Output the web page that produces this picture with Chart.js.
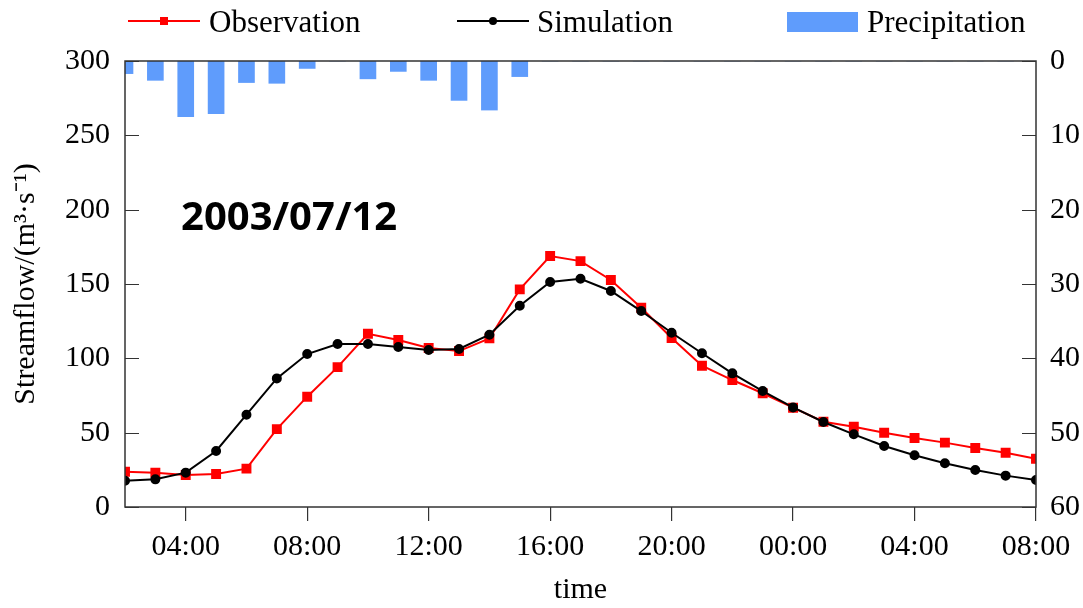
<!DOCTYPE html>
<html>
<head>
<meta charset="utf-8">
<script src="https://cdn.jsdelivr.net/npm/chart.js@4"></script>
<style>
  html, body { margin: 0; padding: 0; background: #fff; }
  #wrap { width: 1083px; height: 608px; }
</style>
</head>
<body>
<div id="wrap"><canvas id="chart"></canvas></div>
<script>
// hours since 00:00 on 2003/07/12
const hours = [2, 3, 4, 5, 6, 7, 8, 9, 10, 11, 12, 13, 14, 15, 16, 17, 18, 19, 20, 21, 22, 23, 24, 25, 26, 27, 28, 29, 30, 31, 32];
const observation = [23.7, 23.1, 21.5, 22.2, 25.8, 52.4, 74.2, 94.1, 116.5, 112.3, 106.9, 104.9, 113.4, 146.4, 168.8, 165.4,
    152.7, 134.0, 113.7, 95.0, 85.4, 76.5, 66.8, 57.4, 54.0, 50.0, 46.4, 43.3, 39.7, 36.5, 32.5];
const simulation = [17.7, 18.6, 23.1, 37.7, 62.1, 86.5, 102.9, 109.6, 109.6, 107.6, 105.6, 106.3, 115.9, 135.4, 151.3, 153.5,
    145.3, 131.8, 117.2, 103.4, 89.9, 78.0, 67.0, 57.2, 48.9, 41.0, 34.8, 29.4, 24.9, 21.1, 18.2];
const precipitation = [1.7, 2.6, 7.5, 7.1, 2.9, 3.0, 1.0, 0, 2.4, 1.4, 2.6, 5.3, 6.6, 2.1, 0, 0,
    0, 0, 0, 0, 0, 0, 0, 0, 0, 0, 0, 0, 0, 0, 0];

const xTickHours = [4, 8, 12, 16, 20, 24, 28, 32];
const xTickLabels = ['04:00', '08:00', '12:00', '16:00', '20:00', '00:00', '04:00', '08:00'];
const flowTicks = [0, 50, 100, 150, 200, 250, 300];
const rainTicks = [0, 10, 20, 30, 40, 50, 60];

const serif = '"Liberation Serif", "Times New Roman", serif';
const rainColor = '#5f9cfc';

const toPoints = values => hours.map((h, i) => ({x: h, y: values[i]}));

// frame, inward y ticks, legend and date label
const decorations = {
    id: 'decorations',
    afterDraw(chart) {
        const ctx = chart.ctx;
        const area = chart.chartArea;
        const yL = chart.scales.y;
        const yR = chart.scales.y2;
        ctx.save();
        ctx.strokeStyle = '#333';
        ctx.lineWidth = 1.5;
        ctx.strokeRect(area.left, area.top, area.right - area.left, area.bottom - area.top);

        ctx.lineWidth = 1.2;
        ctx.beginPath();
        flowTicks.forEach(v => {
            const p = Math.round(yL.getPixelForValue(v)) + 0.5;
            ctx.moveTo(area.left, p);
            ctx.lineTo(area.left + 14, p);
        });
        rainTicks.forEach(v => {
            const p = Math.round(yR.getPixelForValue(v)) + 0.5;
            ctx.moveTo(area.right - 14, p);
            ctx.lineTo(area.right, p);
        });
        ctx.stroke();

        // legend
        ctx.lineWidth = 2;
        ctx.strokeStyle = '#ff0000';
        ctx.beginPath();
        ctx.moveTo(128, 21);
        ctx.lineTo(200, 21);
        ctx.stroke();
        ctx.fillStyle = '#ff0000';
        ctx.fillRect(160, 17, 8, 8);

        ctx.strokeStyle = '#000';
        ctx.beginPath();
        ctx.moveTo(457, 21);
        ctx.lineTo(529, 21);
        ctx.stroke();
        ctx.fillStyle = '#000';
        ctx.beginPath();
        ctx.arc(493, 21, 4, 0, Math.PI * 2);
        ctx.fill();

        ctx.fillStyle = rainColor;
        ctx.fillRect(787, 12, 71, 20);

        ctx.fillStyle = '#000';
        ctx.font = '31px ' + serif;
        ctx.textBaseline = 'alphabetic';
        ctx.textAlign = 'left';
        ctx.fillText('Observation', 209, 32);
        ctx.fillText('Simulation', 537, 32);
        ctx.fillText('Precipitation', 867, 32);

        ctx.font = 'bold 40px "Noto Sans", sans-serif';
        ctx.fillText('2003/07/12', 181, 230);
        ctx.restore();
    }
};

new Chart(document.getElementById('chart'), {
    type: 'line',
    data: {
        datasets: [
            {
                label: 'Observation',
                data: toPoints(observation),
                borderColor: '#ff0000',
                backgroundColor: '#ff0000',
                borderWidth: 2,
                pointStyle: 'rect',
                pointRadius: 5.6,
                pointHoverRadius: 5.6,
                yAxisID: 'y',
                order: 2
            },
            {
                label: 'Simulation',
                data: toPoints(simulation),
                borderColor: '#000',
                backgroundColor: '#000',
                borderWidth: 2,
                pointStyle: 'circle',
                pointRadius: 4,
                pointHoverRadius: 4,
                yAxisID: 'y',
                order: 1
            },
            {
                type: 'bar',
                label: 'Precipitation',
                data: toPoints(precipitation),
                backgroundColor: rainColor,
                borderWidth: 0,
                barThickness: 16,
                yAxisID: 'y2',
                clip: 0,
                order: 3
            }
        ]
    },
    options: {
        responsive: true,
        maintainAspectRatio: false,
        animation: false,
        layout: {padding: {top: 61, left: 0, right: 0, bottom: 0}},
        plugins: {
            legend: {display: false},
            tooltip: {enabled: false}
        },
        scales: {
            x: {
                type: 'linear',
                min: 2,
                max: 32,
                offset: false,
                afterBuildTicks: scale => {
                    scale.ticks = xTickHours.map(v => ({value: v}));
                },
                afterFit: scale => { scale.height = 101; },
                border: {display: false},
                grid: {
                    offset: false,
                    drawOnChartArea: false,
                    drawTicks: true,
                    tickLength: 14,
                    color: '#333',
                    lineWidth: 1.2
                },
                ticks: {
                    autoSkip: false,
                    maxRotation: 0,
                    padding: 8,
                    color: '#000',
                    font: {family: serif, size: 30},
                    callback: value => xTickLabels[xTickHours.indexOf(value)]
                },
                title: {
                    display: true,
                    text: 'time',
                    color: '#000',
                    padding: 0,
                    font: {family: serif, size: 30}
                }
            },
            y: {
                position: 'left',
                min: 0,
                max: 300,
                afterBuildTicks: scale => {
                    scale.ticks = flowTicks.map(v => ({value: v}));
                },
                afterFit: scale => { scale.width = 125; },
                border: {display: false},
                grid: {display: false, drawTicks: false},
                ticks: {
                    padding: 15,
                    color: '#000',
                    font: {family: serif, size: 30}
                },
                title: {
                    display: true,
                    text: 'Streamflow/(m³·s⁻¹)',
                    color: '#000',
                    padding: {top: 8, bottom: 0},
                    font: {family: serif, size: 30}
                }
            },
            y2: {
                position: 'right',
                reverse: true,
                min: 0,
                max: 60,
                afterBuildTicks: scale => {
                    scale.ticks = rainTicks.map(v => ({value: v}));
                },
                afterFit: scale => { scale.width = 47; },
                border: {display: false},
                grid: {display: false, drawTicks: false},
                ticks: {
                    padding: 14,
                    color: '#000',
                    font: {family: serif, size: 30}
                }
            }
        }
    },
    plugins: [decorations]
});
</script>
</body>
</html>
